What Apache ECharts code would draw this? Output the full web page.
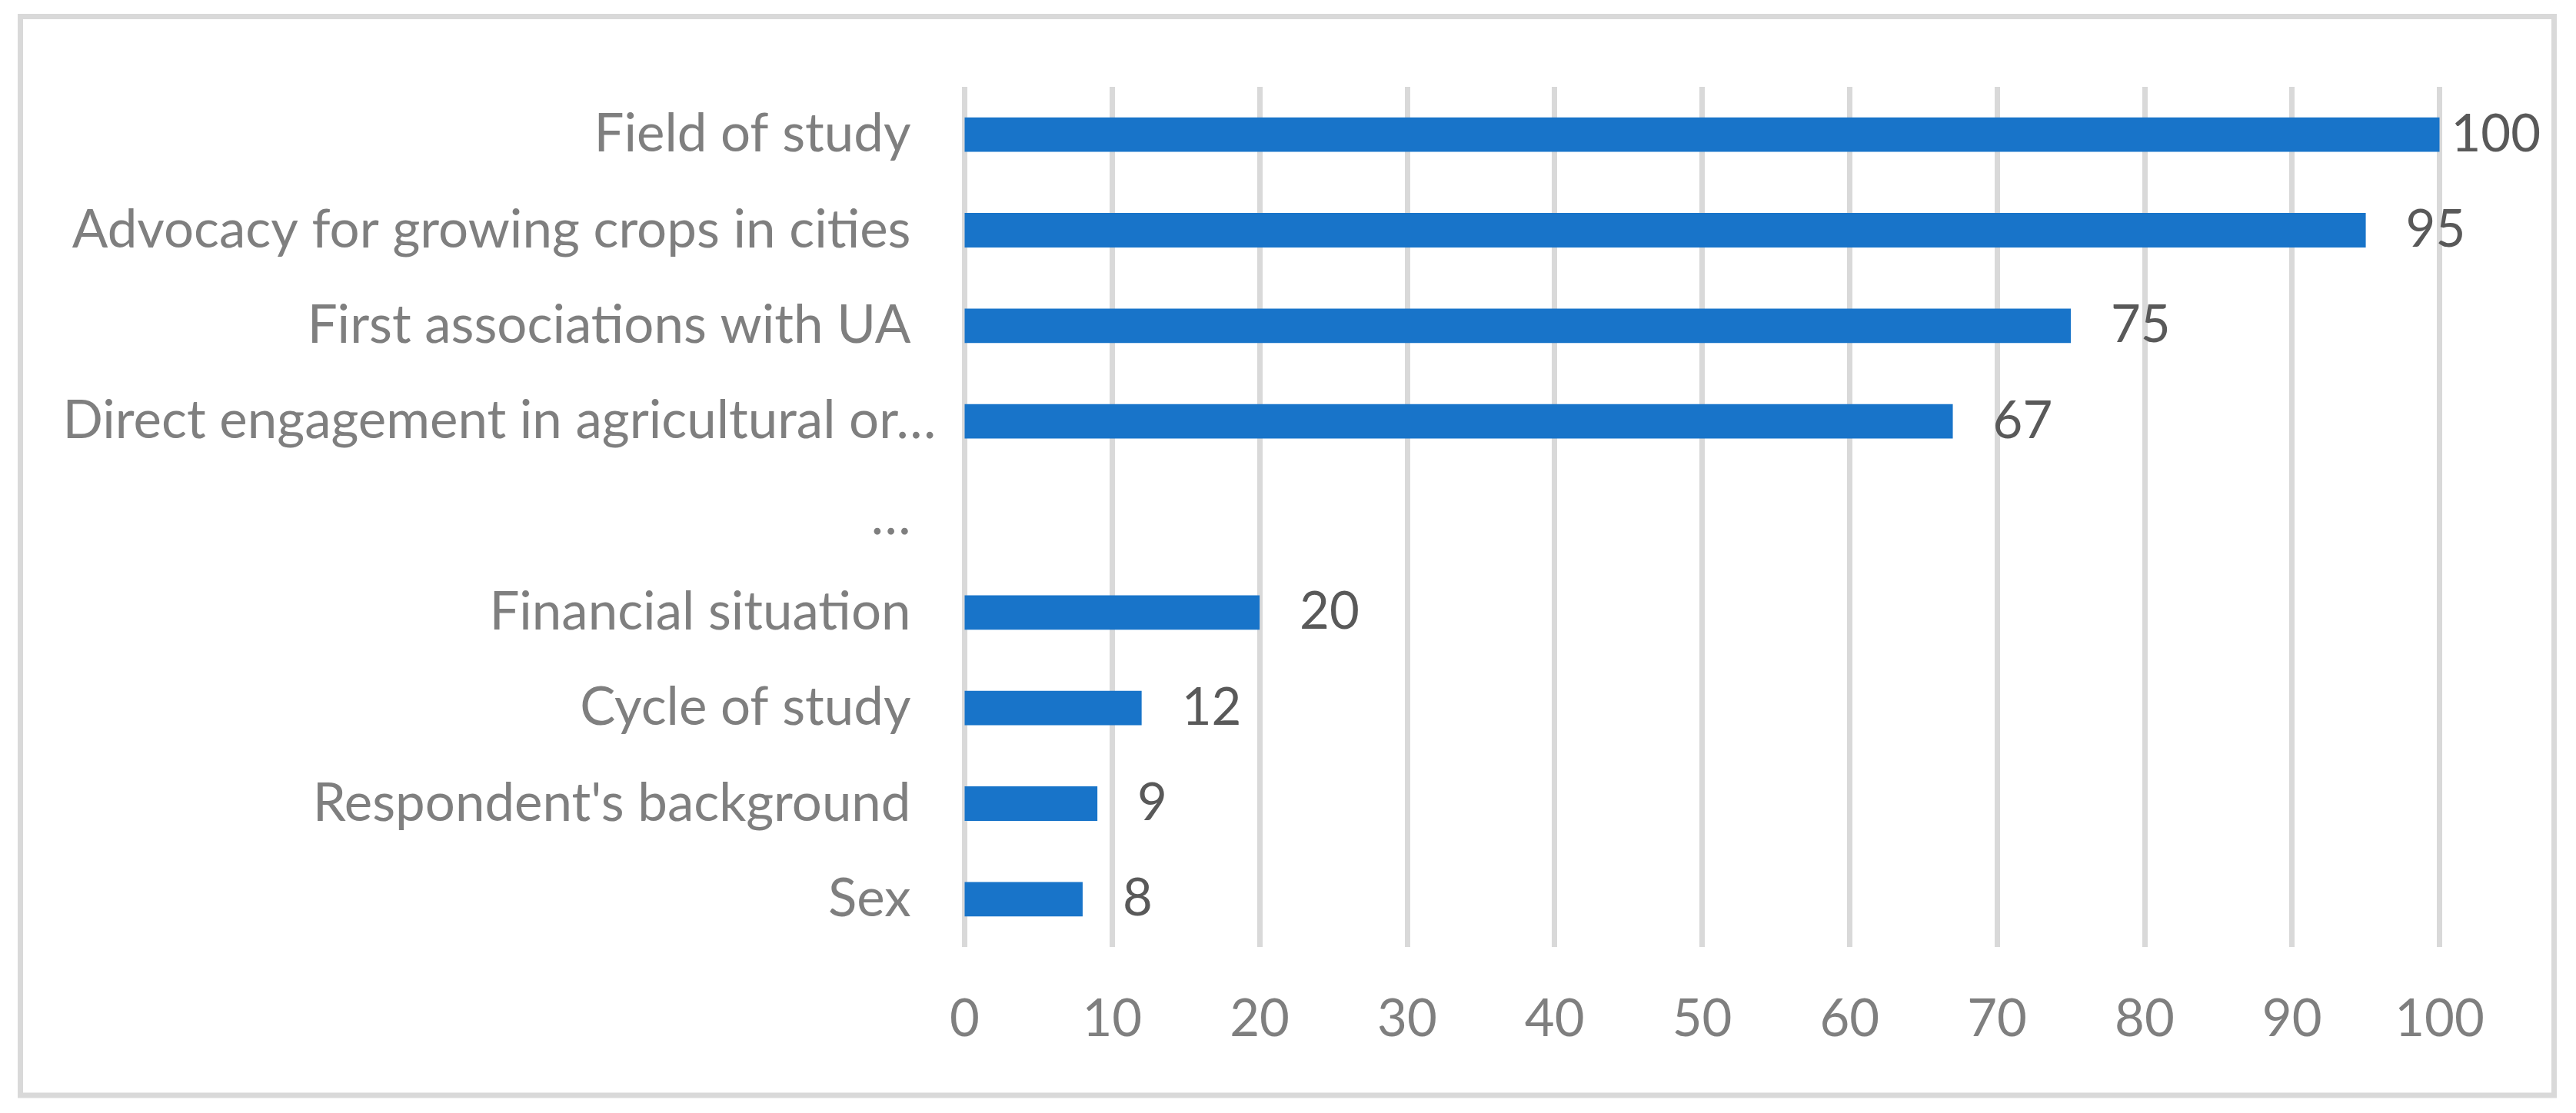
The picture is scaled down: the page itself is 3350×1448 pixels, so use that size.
<!DOCTYPE html>
<html>
<head>
<meta charset="utf-8">
<script src="https://cdn.jsdelivr.net/npm/echarts@6/dist/echarts.min.js"></script>
<style>
html,body{margin:0;padding:0;background:#fff;}
#chart{width:3350px;height:1448px;}
</style>
</head>
<body>
<div id="chart"></div>
<script>
// Categories, top to bottom
const categories = [
  "Field of study",
  "Advocacy for growing crops in cities",
  "First associations with UA",
  "Direct engagement in agricultural or…",
  "…",
  "Financial situation",
  "Cycle of study",
  "Respondent's background",
  "Sex"
];
const values = [100, 95, 75, 67, null, 20, 12, 9, 8];
const xTicks = [0, 10, 20, 30, 40, 50, 60, 70, 80, 90, 100];

const FONT = 'Lato';
const chart = echarts.init(document.getElementById('chart'), null, {renderer: 'canvas'});

const barData = values.map(function (v) {
  if (v === 100) {
    return {value: v, label: {distance: 15}};
  }
  return v;
});

chart.setOption({
  animation: false,
  backgroundColor: '#ffffff',
  graphic: [{
    type: 'rect',
    shape: {x: 26.5, y: 21.5, width: 3295, height: 1403.5},
    style: {fill: 'none', stroke: '#d9d9d9', lineWidth: 7},
    silent: true
  }],
  grid: {left: 1254.5, right: 177.5, top: 113, bottom: 216, containLabel: false},
  xAxis: {
    type: 'value',
    min: xTicks[0],
    max: xTicks[xTicks.length - 1],
    interval: 10,
    axisLine: {show: false},
    axisTick: {show: false},
    splitLine: {show: true, showMinLine: true, showMaxLine: true, lineStyle: {color: '#d9d9d9', width: 7}},
    axisLabel: {
      color: '#7f7f7f',
      fontFamily: FONT,
      fontSize: 67,
      margin: 61
    }
  },
  yAxis: {
    type: 'category',
    data: categories,
    inverse: true,
    axisLine: {show: false},
    axisTick: {show: false},
    splitLine: {show: false},
    axisLabel: {
      color: '#7f7f7f',
      fontFamily: FONT,
      fontSize: 69,
      margin: 70,
      formatter: function (val, idx) {
        if (val.length > 36) {
          return '{long|' + val + '}';
        }
        return val;
      },
      rich: {
        long: {
          color: '#7f7f7f',
          fontFamily: FONT,
          fontSize: 69,
          width: 1103,
          align: 'left'
        }
      }
    }
  },
  series: [{
    type: 'bar',
    data: barData,
    barWidth: '36%',
    itemStyle: {color: '#1874c9'},
    label: {
      show: true,
      position: 'right',
      distance: 52,
      color: '#595959',
      fontFamily: FONT,
      fontSize: 67
    }
  }]
});
</script>
</body>
</html>
